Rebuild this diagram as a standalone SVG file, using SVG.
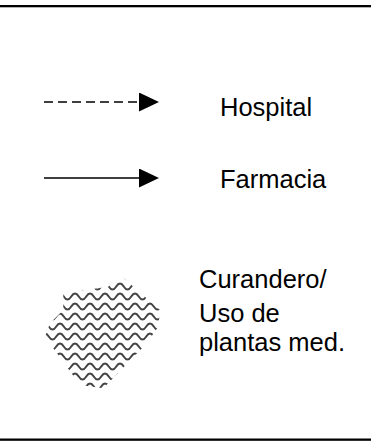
<svg xmlns="http://www.w3.org/2000/svg" width="371" height="445" viewBox="0 0 371 445">
  <style>
    .lbl { font-family: "Liberation Sans", Arial, sans-serif; font-size: 25.5px; fill: #000; }
    .rule { fill: #000; }
    .ln { stroke: #000; stroke-width: 1.6; fill: none; }
    .dash { stroke-dasharray: 9 5; }
  </style>
  <defs>
    <marker id="tri" viewBox="0 0 20 19" refX="0" refY="9.5" markerWidth="20" markerHeight="19" markerUnits="userSpaceOnUse" orient="auto">
      <path d="M0,0 L20,9.5 L0,19 Z" fill="#000"/>
    </marker>
    <pattern id="waves" patternUnits="userSpaceOnUse" x="45" y="272" width="15" height="10">
      <path d="M-7.5,7.5 Q-5.6,7.5 -3.75,4.5 Q-1.9,1.5 0,1.5 Q1.9,1.5 3.75,4.5 Q5.6,7.5 7.5,7.5 Q9.4,7.5 11.25,4.5 Q13.1,1.5 15,1.5 Q16.9,1.5 18.75,4.5 Q20.6,7.5 22.5,7.5" fill="none" stroke="#444" stroke-width="2"/>
    </pattern>
  </defs>

  <g id="frame">
    <rect class="rule" x="0" y="5" width="371" height="2.3"/>
    <rect class="rule" x="0" y="438.5" width="371" height="2.3"/>
  </g>

  <g id="connectors">
    <path class="ln dash" d="M44,102 L139,102" marker-end="url(#tri)"/>
    <path class="ln" d="M44,178 L139,178" marker-end="url(#tri)"/>
  </g>

  <g id="hospital">
    <text class="lbl" x="220" y="116">Hospital</text>
  </g>

  <g id="farmacia">
    <text class="lbl" x="220" y="188">Farmacia</text>
  </g>

  <g id="curandero">
    <path d="M63.3,293.3 L108.3,286.7 L120,275 L160,310 L158.3,326.7 L146.7,343.3 L103.3,388.3 L80,385 L45,336.7 L50,323.3 L63.3,310 Z" fill="url(#waves)"/>
    <text class="lbl" x="199" y="288">Curandero/</text>
    <text class="lbl" x="199" y="322">Uso de</text>
    <text class="lbl" x="199" y="351">plantas med.</text>
  </g>
</svg>
